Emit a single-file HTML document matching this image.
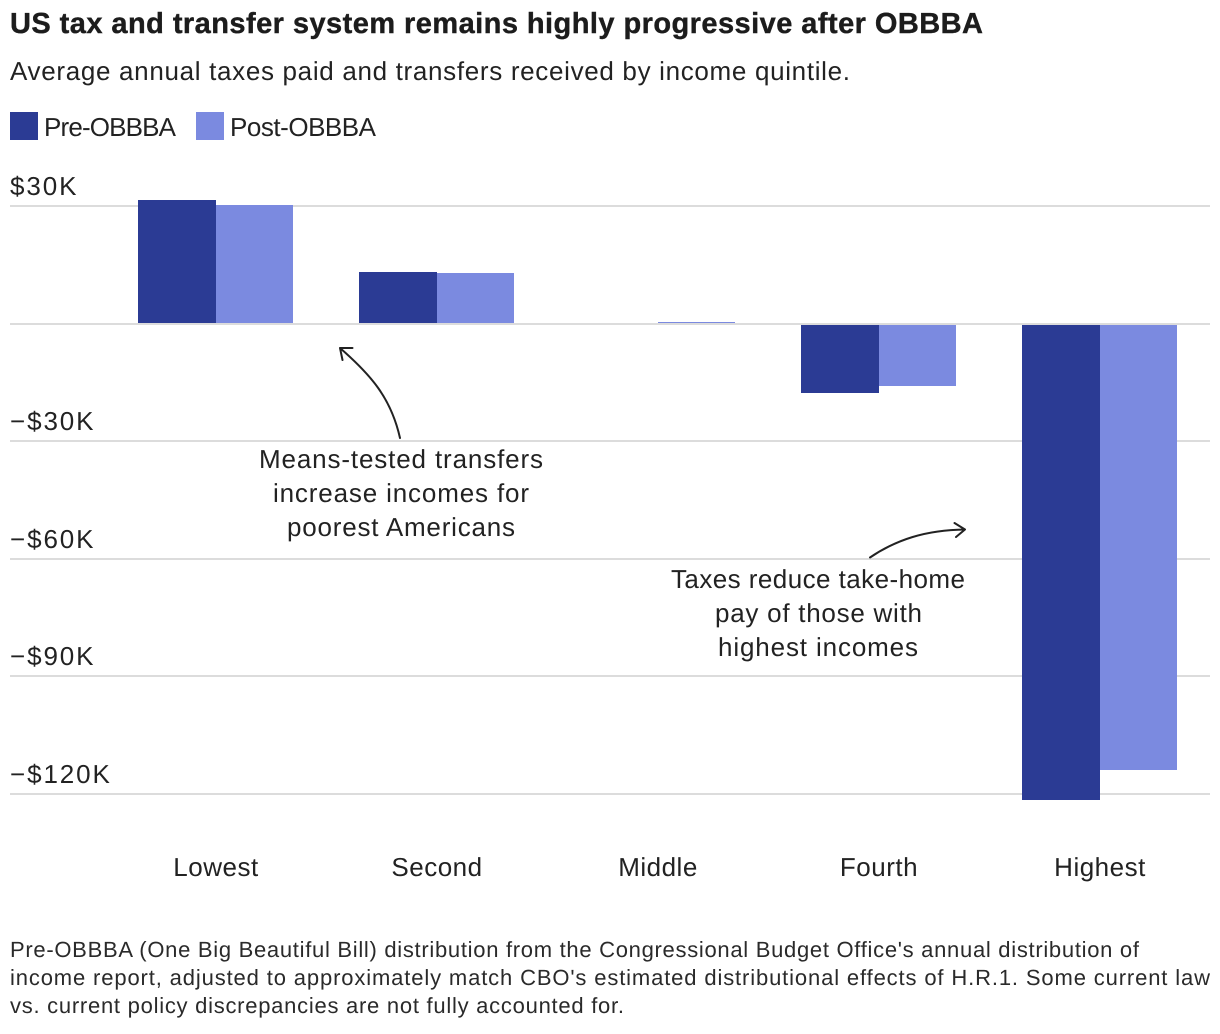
<!DOCTYPE html>
<html lang="en">
<head>
<meta charset="utf-8">
<title>US tax and transfer system</title>
<style>
html,body{margin:0;padding:0;background:#fff;width:1220px;height:1034px;overflow:hidden}
svg{display:block;font-family:"Liberation Sans",Arial,sans-serif;fill:#222;text-rendering:geometricPrecision}
.t{font-size:26px}
.f{font-size:22px;fill:#2a2a2a}
</style>
</head>
<body>
<svg id="chart" width="1220" height="1034" viewBox="0 0 1220 1034" xmlns="http://www.w3.org/2000/svg">
  <text x="10" y="33" font-size="29" font-weight="700" fill="#1c1c1c" stroke="#1c1c1c" stroke-width="0.4" textLength="973" lengthAdjust="spacing">US tax and transfer system remains highly progressive after OBBBA</text>
  <text class="t" x="10" y="80" textLength="840" lengthAdjust="spacing">Average annual taxes paid and transfers received by income quintile.</text>

  <g>
    <rect x="10" y="112" width="28" height="28" fill="#2b3b94"/>
    <text class="t" x="44" y="136" textLength="132" lengthAdjust="spacing">Pre-OBBBA</text>
    <rect x="196" y="112" width="28" height="28" fill="#7b8ae0"/>
    <text class="t" x="230" y="136" textLength="146" lengthAdjust="spacing">Post-OBBBA</text>
  </g>

  <g id="grid-layer"></g>
  <g id="bars-layer"></g>
  <g id="zero-layer"></g>
  <g id="ytick-layer"></g>
  <g id="xtick-layer"></g>

  <g>
    <path d="M400 438 C391 398 371 375 340 348 M340 348 L352.500 348 M340 348 L342.500 360" fill="none" stroke="#222" stroke-width="2" stroke-linecap="round"/>
    <text class="t" x="259" y="468" textLength="284" lengthAdjust="spacing">Means-tested transfers</text>
    <text class="t" x="273" y="502" textLength="256" lengthAdjust="spacing">increase incomes for</text>
    <text class="t" x="287" y="536" textLength="228" lengthAdjust="spacing">poorest Americans</text>
  </g>
  <g>
    <path d="M870 557.500 C896 540 925 530 965 529.500 M965 529.500 L954.500 523 M965 529.500 L956 537" fill="none" stroke="#222" stroke-width="2" stroke-linecap="round"/>
    <text class="t" x="671" y="588" textLength="294" lengthAdjust="spacing">Taxes reduce take-home</text>
    <text class="t" x="715" y="622" textLength="207" lengthAdjust="spacing">pay of those with</text>
    <text class="t" x="718" y="656" textLength="200" lengthAdjust="spacing">highest incomes</text>
  </g>

  <g>
    <text class="f" x="10" y="957" textLength="1129" lengthAdjust="spacing">Pre-OBBBA (One Big Beautiful Bill) distribution from the Congressional Budget Office's annual distribution of</text>
    <text class="f" x="10" y="985" textLength="1200" lengthAdjust="spacing">income report, adjusted to approximately match CBO's estimated distributional effects of H.R.1. Some current law</text>
    <text class="f" x="10" y="1013" textLength="614" lengthAdjust="spacing">vs. current policy discrepancies are not fully accounted for.</text>
  </g>
</svg>
<script>
const categories = ['Lowest', 'Second', 'Middle', 'Fourth', 'Highest'];
const preObbba = [31.66, 13.3, 0, -17.6, -121.5];
const postObbba = [30.4, 13.0, 0.5, -15.8, -113.9];
const yTicks = [30, 0, -30, -60, -90, -120];
const yTickLabels = ['$30K', '', '\u2212$30K', '\u2212$60K', '\u2212$90K', '\u2212$120K'];

const NS = 'http://www.w3.org/2000/svg';
const yScale = v => 324 - v * 3.917;
const xCenter = i => 216 + i * 221;

function make(tag, attrs, parent) {
  const el = document.createElementNS(NS, tag);
  for (const k in attrs) el.setAttribute(k, attrs[k]);
  parent.appendChild(el);
  return el;
}

const barsLayer = document.getElementById('bars-layer');
const gridLayer = document.getElementById('grid-layer');
const zeroLayer = document.getElementById('zero-layer');
const yLayer = document.getElementById('ytick-layer');
const xLayer = document.getElementById('xtick-layer');

function drawBar(value, x, w, fill, label) {
  const y0 = yScale(0), y1 = Math.round(yScale(value));
  const r = make('rect', {x: x, y: Math.min(y0, y1), width: w, height: Math.abs(y1 - y0), fill: fill}, barsLayer);
  
  
}

categories.forEach((c, i) => {
  const cx = xCenter(i);
  drawBar(preObbba[i], cx - 78, 78, '#2b3b94', 'bar-pre-' + c.toLowerCase());
  drawBar(postObbba[i], cx, 77, '#7b8ae0', 'bar-post-' + c.toLowerCase());
  const t = make('text', {x: cx, y: 876, 'text-anchor': 'middle', class: 't', 'letter-spacing': '0.5'}, xLayer);
  
  
  t.textContent = c;
});

yTicks.forEach((v, i) => {
  const y = Math.floor(yScale(v));
  const l = make('rect', {x: 10, y: y - 1, width: 1200, height: 2, fill: '#dcdcdc'}, v === 0 ? zeroLayer : gridLayer);
  
  
  if (yTickLabels[i]) {
    const t = make('text', {x: 10, y: y - 11, class: 't', 'letter-spacing': '1.9'}, yLayer);
    
    
    t.textContent = yTickLabels[i];
  }
});
</script>
</body>
</html>
